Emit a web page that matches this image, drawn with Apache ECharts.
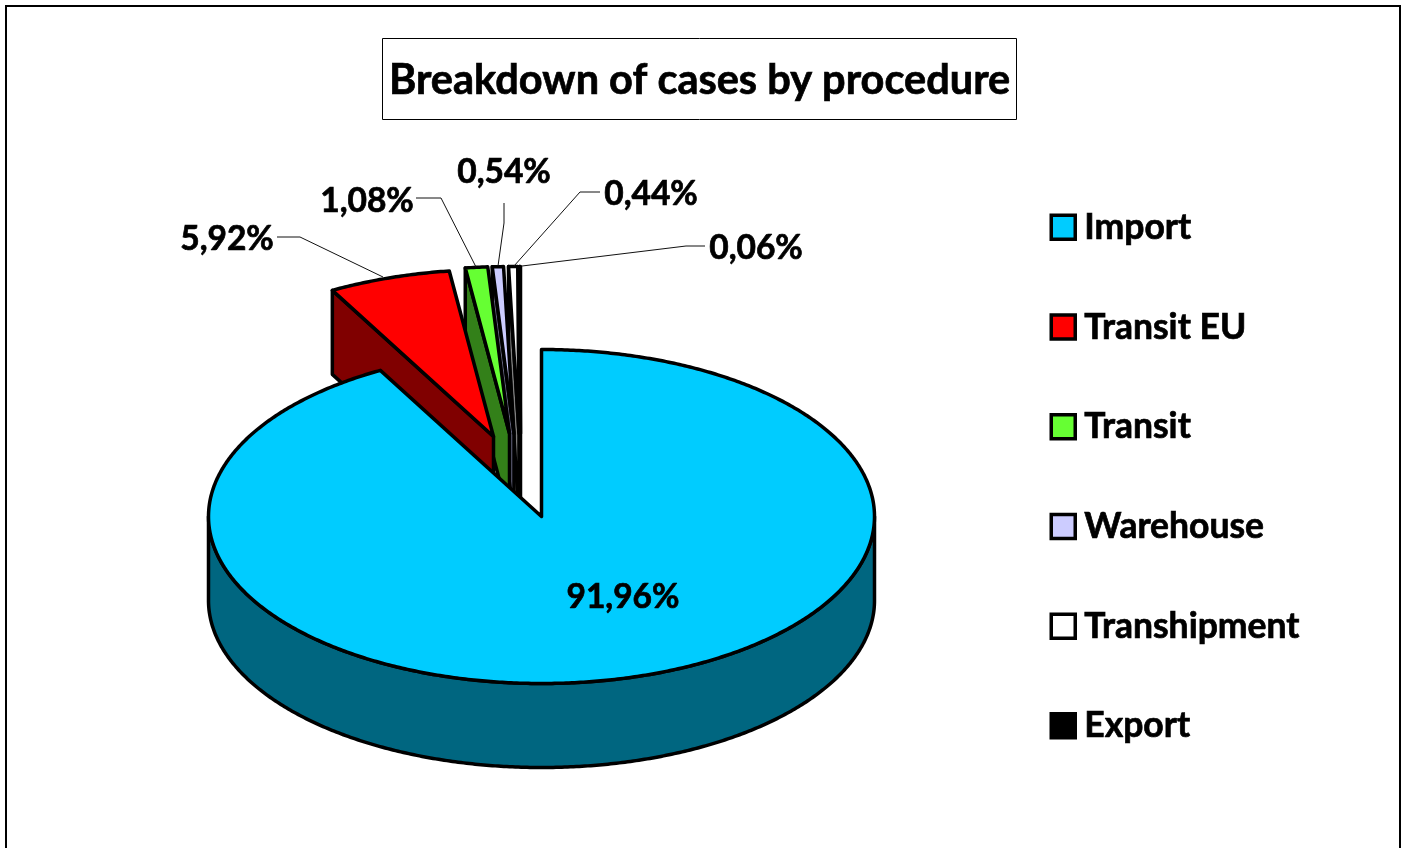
<!DOCTYPE html>
<html>
<head>
<meta charset="utf-8">
<title>Breakdown of cases by procedure</title>
<script src="https://cdn.jsdelivr.net/npm/echarts@6/dist/echarts.min.js"></script>
<style>
  html, body { margin: 0; padding: 0; background: #fff; }
  #chart { width: 1404px; height: 848px; }
</style>
</head>
<body>
<div id="chart"></div>
<script>
const chartTitle = 'Breakdown of cases by procedure'
const categories = ['Import', 'Transit EU', 'Transit', 'Warehouse', 'Transhipment', 'Export']
const values = [91.96, 5.92, 1.08, 0.54, 0.44, 0.06]

const topColors = ['#00ccff', '#ff0000', '#66ff33', '#ccccff', '#ffffff', '#000000']
const sideColors = ['#006680', '#800000', '#338019', '#666680', '#808080', '#000000']

// tilted pie geometry
const cx = 541.5
const cy = 516.5
const rx = 333
const ry = 167
const depth = 84
const explode = [[0, 0], [-48, -80], [-32, -83], [-27.5, -83], [-22.5, -83], [-21, -83]]

// label centre and leader line for each slice
const labelPos = [[623, 597], [227, 239], [367, 201], [504, 172], [651, 194], [756, 248]]
const leaders = [
  [],
  [[277, 237], [300, 237], [383, 277]],
  [[416, 198], [441, 198], [476, 267]],
  [[504, 203], [504, 223], [498, 266]],
  [[600, 192], [580, 192], [514, 266]],
  [[705, 246], [686, 246], [522, 266]]
]

const font = 'Lato'
const total = values.reduce((a, b) => a + b, 0)

function startAngle (index) {
  let sum = 0
  for (let i = 0; i < index; i++) sum += values[i]
  return sum / total * 360
}

function point (deg, ox, oy, drop) {
  const a = deg * Math.PI / 180
  return [cx + ox + rx * Math.sin(a), cy + oy - ry * Math.cos(a) + drop]
}

function arc (from, to, ox, oy, drop) {
  const n = Math.max(2, Math.ceil(Math.abs(to - from) * 2))
  const pts = []
  for (let i = 0; i <= n; i++) {
    pts.push(point(from + (to - from) * i / n, ox, oy, drop))
  }
  return pts
}

function renderSlice (index, api) {
  const from = startAngle(index)
  const to = from + api.value(0) / total * 360
  const ox = explode[index][0]
  const oy = explode[index][1]
  const apex = [cx + ox, cy + oy]
  const line = { stroke: '#000', lineWidth: 3.5, lineJoin: 'round' }
  const children = []

  // cut face on the counter-clockwise side
  if (Math.sin(from * Math.PI / 180) < -1e-6) {
    const p = point(from, ox, oy, 0)
    children.push({
      type: 'polygon',
      shape: { points: [apex, p, [p[0], p[1] + depth], [apex[0], apex[1] + depth]] },
      style: { fill: sideColors[index], ...line }
    })
  }
  // outer rim, only the part that faces the viewer
  const a = Math.max(from, 90)
  const b = Math.min(to, 270)
  if (b > a) {
    const upper = arc(a, b, ox, oy, 0)
    const lower = arc(b, a, ox, oy, depth)
    children.push({
      type: 'polygon',
      shape: { points: upper.concat(lower) },
      style: { fill: sideColors[index], ...line }
    })
  }
  // top face
  children.push({
    type: 'polygon',
    shape: { points: [apex].concat(arc(from, to, ox, oy, 0)) },
    style: { fill: topColors[index], ...line }
  })
  if (leaders[index].length) {
    children.push({
      type: 'polyline',
      shape: { points: leaders[index] },
      style: { fill: 'none', stroke: '#111', lineWidth: 1 }
    })
  }
  children.push({
    type: 'text',
    style: {
      text: api.value(0).toFixed(2).replace('.', ',') + '%',
      x: labelPos[index][0],
      y: labelPos[index][1],
      align: 'center',
      verticalAlign: 'middle',
      fontFamily: font,
      fontWeight: 'bold',
      fontSize: 33.5,
      fill: '#000',
      stroke: '#000',
      lineWidth: 0.7
    }
  })
  return { type: 'group', children: children }
}

// smallest slice first so Import ends up on top
const series = categories.map((name, index) => ({
  name: name,
  type: 'custom',
  coordinateSystem: 'none',
  itemStyle: { color: topColors[index] },
  data: [[values[index]]],
  renderItem: (params, api) => renderSlice(index, api)
})).reverse()

const chart = echarts.init(document.getElementById('chart'))
chart.setOption({
  animation: false,
  backgroundColor: '#fff',
  title: {
    text: chartTitle,
    left: 383,
    top: 38,
    padding: [21, 6.5, 17, 6],
    borderColor: '#000',
    borderWidth: 1,
    textStyle: {
      fontFamily: font,
      fontWeight: 'bold',
      fontSize: 41.5,
      lineHeight: 44,
      color: '#000',
      textBorderColor: '#000',
      textBorderWidth: 0.7
    }
  },
  legend: {
    orient: 'vertical',
    left: 1049.5,
    top: 209,
    padding: 0,
    data: categories,
    icon: 'rect',
    itemWidth: 24,
    itemHeight: 24,
    itemGap: 63,
    selectedMode: false,
    itemStyle: { borderColor: '#000', borderWidth: 3.5 },
    textStyle: {
      fontFamily: font,
      fontWeight: 'bold',
      fontSize: 35.5,
      color: '#000',
      lineHeight: 30,
      padding: [0, 0, 0, 4],
      textBorderColor: '#000',
      textBorderWidth: 0.7
    }
  },
  graphic: [{
    type: 'rect',
    silent: true,
    z: -1,
    shape: { x: 6, y: 6, width: 1394, height: 900 },
    style: { fill: 'none', stroke: '#000', lineWidth: 2 }
  }],
  series: series
})
</script>
</body>
</html>
